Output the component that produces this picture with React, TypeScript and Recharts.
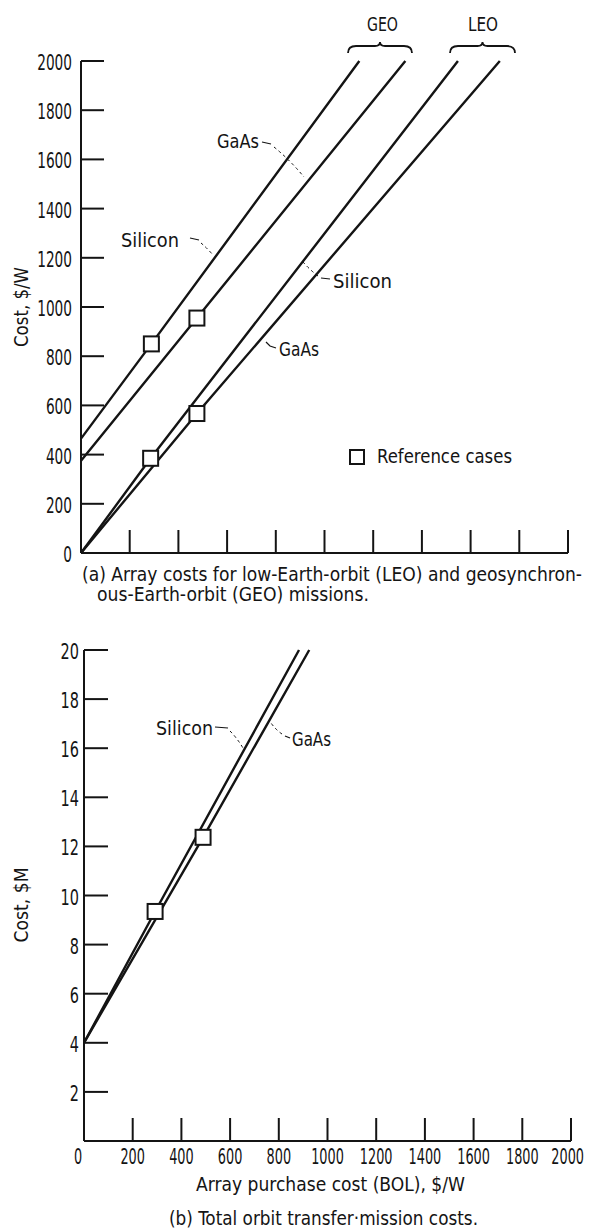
import React from 'react';
import { ComposedChart, Line, Scatter, XAxis, YAxis } from 'recharts';

const FONT = "'Liberation Sans Narrow', 'DejaVu Sans Condensed', 'Liberation Sans', sans-serif";
const INK = '#141414';

// (a) array costs, $/W, against array purchase cost (BOL), $/W
const geoSilicon = [
  { x: 0, y: 465 },
  { x: 289, y: 850 },
  { x: 1143, y: 2000 },
];
const geoGaAs = [
  { x: 0, y: 375 },
  { x: 476, y: 955 },
  { x: 1332, y: 2000 },
];
const leoSilicon = [
  { x: 0, y: 0 },
  { x: 286, y: 385 },
  { x: 1548, y: 2000 },
];
const leoGaAs = [
  { x: 0, y: 0 },
  { x: 476, y: 567 },
  { x: 1720, y: 2000 },
];
const refCasesA = [
  { x: 289, y: 850 },
  { x: 476, y: 955 },
  { x: 286, y: 385 },
  { x: 476, y: 567 },
];

// (b) total orbit transfer mission costs, $M
const xferSilicon = [
  { x: 0, y: 4 },
  { x: 292, y: 9.35 },
  { x: 883, y: 20 },
];
const xferGaAs = [
  { x: 0, y: 4 },
  { x: 489, y: 12.37 },
  { x: 925, y: 20 },
];
const refCasesB = [
  { x: 292, y: 9.35 },
  { x: 489, y: 12.37 },
];

const xTicks = [0, 200, 400, 600, 800, 1000, 1200, 1400, 1600, 1800, 2000];
const yTicksA = [0, 200, 400, 600, 800, 1000, 1200, 1400, 1600, 1800, 2000];
const yTicksB = [2, 4, 6, 8, 10, 12, 14, 16, 18, 20];

const txt = { fontFamily: FONT, fill: INK };

// tick mark drawn inward, label outside
const YTick = ({ x, y, payload, len, digitW, gap }: any) => {
  const label = String(payload.value);
  return (
    <g>
      {payload.value !== 0 && (
        <line x1={x} y1={y} x2={x + len} y2={y} stroke={INK} strokeWidth={2} />
      )}
      <text
        x={x - gap}
        y={y + 9}
        textAnchor="end"
        fontSize={22}
        {...txt}
        textLength={label.length * digitW}
        lengthAdjust="spacingAndGlyphs"
      >
        {label}
      </text>
    </g>
  );
};

const XTick = ({ x, y, payload, showLabel }: any) => {
  const label = String(payload.value);
  const last = payload.value === 2000;
  const lx = last ? x + 13 : payload.value === 0 ? x - 6 : x;
  return (
    <g>
      {payload.value !== 0 && (
        <line x1={x} y1={y} x2={x} y2={y - 23} stroke={INK} strokeWidth={2} />
      )}
      {showLabel && (
        <text
          transform={`translate(${lx},${y + 23}) scale(0.68,1)`}
          textAnchor={last ? 'end' : 'middle'}
          fontSize={21}
          {...txt}
        >
          {label}
        </text>
      )}
    </g>
  );
};

const RefSquare = ({ cx, cy }: any) => (
  <rect x={cx - 7.5} y={cy - 7.5} width={15} height={15} fill="#fff" stroke={INK} strokeWidth={2} />
);

const Label = ({ x, y, w, size = 20, children, anchor = 'start' }: any) => (
  <text
    x={x}
    y={y}
    fontSize={size}
    textAnchor={anchor}
    {...txt}
    textLength={w}
    lengthAdjust="spacingAndGlyphs"
  >
    {children}
  </text>
);

const brace = (x1: number, x2: number, y: number) => {
  const m = (x1 + x2) / 2;
  return `M${x1},${y + 11} Q${x1},${y + 4} ${x1 + 8},${y + 4} L${m - 5},${y + 4} Q${m},${y + 4} ${m},${y} Q${m},${y + 4} ${m + 5},${y + 4} L${x2 - 8},${y + 4} Q${x2},${y + 4} ${x2},${y + 11}`;
};

const lineProps = {
  dataKey: 'y',
  type: 'linear' as const,
  stroke: INK,
  strokeWidth: 2.4,
  dot: false,
  activeDot: false,
  isAnimationActive: false,
};

export default function App() {
  return (
    <div style={{ position: 'absolute', left: 0, top: 0, width: 592, height: 1229, background: '#fff' }}>
      <div style={{ position: 'absolute', left: 0, top: 0 }}>
        <ComposedChart width={592} height={600} margin={{ top: 61, right: 24, bottom: 27, left: 31 }}>
          <XAxis
            dataKey="x"
            type="number"
            domain={[0, 2000]}
            ticks={xTicks}
            interval={0}
            height={20}
            tickSize={0}
            tickMargin={0}
            axisLine={{ stroke: INK, strokeWidth: 2 }}
            tick={(p: any) => <XTick {...p} showLabel={false} />}
          />
          <YAxis
            type="number"
            domain={[0, 2000]}
            ticks={yTicksA}
            interval={0}
            width={50}
            tickSize={0}
            tickMargin={0}
            axisLine={{ stroke: INK, strokeWidth: 2 }}
            tick={(p: any) => <YTick {...p} len={23} digitW={8.7} gap={9} />}
          />
          <Line data={geoSilicon} {...lineProps} />
          <Line data={geoGaAs} {...lineProps} />
          <Line data={leoSilicon} {...lineProps} />
          <Line data={leoGaAs} {...lineProps} />
          <Scatter data={refCasesA} dataKey="y" shape={RefSquare} isAnimationActive={false} />
        </ComposedChart>
      </div>

      <div style={{ position: 'absolute', left: 0, top: 600 }}>
        <ComposedChart width={592} height={629} margin={{ top: 50, right: 21, bottom: 68, left: 34 }}>
          <XAxis
            dataKey="x"
            type="number"
            domain={[0, 2000]}
            ticks={xTicks}
            interval={0}
            height={20}
            tickSize={0}
            tickMargin={0}
            axisLine={{ stroke: INK, strokeWidth: 2 }}
            tick={(p: any) => <XTick {...p} showLabel={true} />}
          />
          <YAxis
            type="number"
            domain={[0, 20]}
            ticks={yTicksB}
            interval={0}
            width={50}
            tickSize={0}
            tickMargin={0}
            axisLine={{ stroke: INK, strokeWidth: 2 }}
            tick={(p: any) => <YTick {...p} len={24} digitW={9.2} gap={5} />}
          />
          <Line data={xferSilicon} {...lineProps} />
          <Line data={xferGaAs} {...lineProps} />
          <Scatter data={refCasesB} dataKey="y" shape={RefSquare} isAnimationActive={false} />
        </ComposedChart>
      </div>

      <svg
        width={592}
        height={1229}
        style={{ position: 'absolute', left: 0, top: 0, pointerEvents: 'none' }}
      >
        {/* part (a) annotations */}
        <Label x={367} y={31} w={31}>GEO</Label>
        <Label x={468} y={31} w={30}>LEO</Label>
        <path d={brace(348, 412, 42)} fill="none" stroke={INK} strokeWidth={1.8} />
        <path d={brace(450, 515, 42)} fill="none" stroke={INK} strokeWidth={1.8} />

        <Label x={217} y={148} w={42}>GaAs</Label>
        <path d="M262,142 L271,144" stroke={INK} strokeWidth={1.2} fill="none" />
        <path d="M274,147 Q290,160 304,177" stroke={INK} strokeWidth={1} strokeDasharray="3 3" fill="none" />

        <Label x={121} y={247} w={58}>Silicon</Label>
        <path d="M190,238 L199,240" stroke={INK} strokeWidth={1.2} fill="none" />
        <path d="M201,243 Q207,248 213,255" stroke={INK} strokeWidth={1} strokeDasharray="3 3" fill="none" />

        <Label x={333} y={288} w={59}>Silicon</Label>
        <path d="M330,279 L321,278" stroke={INK} strokeWidth={1.2} fill="none" />
        <path d="M318,276 Q310,270 303,262" stroke={INK} strokeWidth={1} strokeDasharray="3 3" fill="none" />

        <Label x={279} y={356} w={40}>GaAs</Label>
        <path d="M276,348 L270,346 L266,342" stroke={INK} strokeWidth={1.2} fill="none" />

        <rect x={350} y={450} width={14} height={14} fill="#fff" stroke={INK} strokeWidth={2} />
        <Label x={377} y={463} w={135}>Reference cases</Label>

        <text transform="translate(28,307) rotate(-90)" textAnchor="middle" fontSize={20} {...txt} textLength={80} lengthAdjust="spacingAndGlyphs">
          Cost, $/W
        </text>

        <Label x={82} y={581} w={500} size={19}>(a) Array costs for low-Earth-orbit (LEO) and geosynchron-</Label>
        <Label x={97} y={601} w={272} size={19}>ous-Earth-orbit (GEO) missions.</Label>

        {/* part (b) annotations */}
        <Label x={156} y={735} w={57}>Silicon</Label>
        <path d="M215,727 L228,728" stroke={INK} strokeWidth={1.2} fill="none" />
        <path d="M230,731 Q237,738 243,748" stroke={INK} strokeWidth={1} strokeDasharray="3 3" fill="none" />

        <Label x={292} y={746} w={39}>GaAs</Label>
        <path d="M290,738 L285,736" stroke={INK} strokeWidth={1.2} fill="none" />
        <path d="M282,734 Q276,730 271,723" stroke={INK} strokeWidth={1} strokeDasharray="3 3" fill="none" />

        <text transform="translate(28,905) rotate(-90)" textAnchor="middle" fontSize={20} {...txt} textLength={75} lengthAdjust="spacingAndGlyphs">
          Cost, $M
        </text>

        <Label x={196} y={1191} w={269}>Array purchase cost (BOL), $/W</Label>
        <Label x={169} y={1225} w={309} size={19}>(b) Total orbit transfer·mission costs.</Label>
      </svg>
    </div>
  );
}
